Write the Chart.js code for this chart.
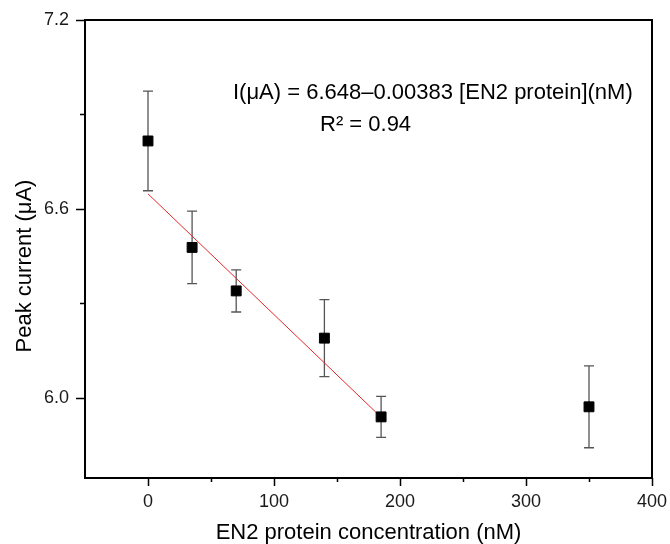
<!DOCTYPE html>
<html>
<head>
<meta charset="utf-8">
<script src="https://cdn.jsdelivr.net/npm/chart.js@4"></script>
<style>
  html, body { margin: 0; padding: 0; background: #ffffff; }
  #wrap { width: 670px; height: 544px; }
</style>
</head>
<body>
<div id="wrap"><canvas id="c" width="670" height="544"></canvas></div>
<script>
// ---- data ----
const concentrations = [0, 35, 70, 140, 185, 350];          // nM
const peakCurrent    = [6.816, 6.478, 6.340, 6.190, 5.940, 5.972]; // µA
const currentError   = [0.158, 0.115, 0.067, 0.122, 0.065, 0.130]; // µA (±)
const fitX = [0, 185];
const fitY = [6.648, 5.939];
const xMajorTicks = [0, 100, 200, 300, 400];
const xMinorTicks = [50, 150, 250, 350];
const yMajorTicks = [6.0, 6.6, 7.2];
const yMinorTicks = [6.3, 6.9];
const equationText = 'I(\u03BCA) = 6.648\u20130.00383 [EN2 protein](nM)';
const r2Text = 'R\u00B2 = 0.94';
const xTitle = 'EN2 protein concentration (nM)';
const yTitle = 'Peak current (\u03BCA)';

const FONT = "'Liberation Sans', Arial, sans-serif";

const frameAndDecor = {
  id: 'frameAndDecor',
  beforeDatasetsDraw(chart) {
    const ctx = chart.ctx;
    const xs = chart.scales.x, ys = chart.scales.y;
    // error bars
    ctx.save();
    ctx.strokeStyle = '#555555';
    ctx.lineWidth = 1.3;
    const cap = 5;
    concentrations.forEach((cx, i) => {
      const px = xs.getPixelForValue(cx);
      const top = ys.getPixelForValue(peakCurrent[i] + currentError[i]);
      const bot = ys.getPixelForValue(peakCurrent[i] - currentError[i]);
      ctx.beginPath();
      ctx.moveTo(px, top); ctx.lineTo(px, bot);
      ctx.moveTo(px - cap, top); ctx.lineTo(px + cap, top);
      ctx.moveTo(px - cap, bot); ctx.lineTo(px + cap, bot);
      ctx.stroke();
    });
    ctx.restore();
  },
  afterDraw(chart) {
    const ctx = chart.ctx;
    const a = chart.chartArea;
    const xs = chart.scales.x, ys = chart.scales.y;
    ctx.save();
    // frame
    ctx.strokeStyle = '#000000';
    ctx.lineWidth = 2;
    ctx.strokeRect(a.left, a.top, a.right - a.left, a.bottom - a.top);
    // ticks
    ctx.lineWidth = 1.5;
    ctx.beginPath();
    xMajorTicks.forEach(v => { const p = Math.round(xs.getPixelForValue(v)) + 0.5; ctx.moveTo(p, a.bottom); ctx.lineTo(p, a.bottom + 8); });
    xMinorTicks.forEach(v => { const p = Math.round(xs.getPixelForValue(v)) + 0.5; ctx.moveTo(p, a.bottom); ctx.lineTo(p, a.bottom + 4); });
    yMajorTicks.forEach(v => { const p = Math.round(ys.getPixelForValue(v)) + 0.5; ctx.moveTo(a.left, p); ctx.lineTo(a.left - 9, p); });
    yMinorTicks.forEach(v => { const p = Math.round(ys.getPixelForValue(v)) + 0.5; ctx.moveTo(a.left, p); ctx.lineTo(a.left - 5, p); });
    ctx.stroke();
    // equation annotation
    ctx.fillStyle = '#000000';
    ctx.font = '22px ' + FONT;
    ctx.textBaseline = 'alphabetic';
    ctx.textAlign = 'left';
    ctx.fillText(equationText, 233, 99);
    ctx.fillText(r2Text, 320, 131);
    // y title
    ctx.translate(25, 266);
    ctx.rotate(-Math.PI / 2);
    ctx.textAlign = 'center';
    ctx.textBaseline = 'middle';
    ctx.fillText(yTitle, 0, 0);
    ctx.restore();
  }
};

new Chart(document.getElementById('c'), {
  type: 'scatter',
  data: {
    datasets: [
      {
        type: 'line',
        label: 'fit',
        data: fitX.map((x, i) => ({ x: x, y: fitY[i] })),
        borderColor: 'rgb(228,40,40)',
        borderWidth: 1,
        pointRadius: 0,
        fill: false,
        order: 2
      },
      {
        label: 'Peak current',
        data: concentrations.map((x, i) => ({ x: x, y: peakCurrent[i] })),
        pointStyle: 'rect',
        pointRadius: 7,
        pointHoverRadius: 7,
        backgroundColor: '#000000',
        borderColor: '#000000',
        borderWidth: 1,
        order: 1
      }
    ]
  },
  options: {
    responsive: false,
    animation: false,
    events: [],
    layout: { padding: { left: 0, top: 20, right: 18, bottom: 0 } },
    plugins: { legend: { display: false }, tooltip: { enabled: false } },
    scales: {
      x: {
        type: 'linear',
        min: -50, max: 400,
        afterBuildTicks: s => { s.ticks = xMajorTicks.map(v => ({ value: v })); },
        afterFit: s => { s.height = 66; s.paddingLeft = 0; s.paddingRight = 0; },
        grid: { display: false, drawTicks: false },
        border: { display: false },
        ticks: {
          padding: 13,
          color: '#1a1a1a',
          font: { family: FONT, size: 18 },
          maxRotation: 0,
          callback: v => String(v)
        },
        title: {
          display: true,
          text: xTitle,
          color: '#000000',
          font: { family: FONT, size: 22, lineHeight: 1 },
          padding: { top: 0, bottom: 0 }
        }
      },
      y: {
        type: 'linear',
        min: 5.746, max: 7.2,
        afterBuildTicks: s => { s.ticks = yMajorTicks.map(v => ({ value: v })); },
        afterFit: s => { s.width = 85; s.paddingTop = 0; s.paddingBottom = 0; },
        grid: { display: false, drawTicks: false },
        border: { display: false },
        ticks: {
          padding: 16,
          color: '#1a1a1a',
          font: { family: FONT, size: 18 },
          callback: v => Number(v).toFixed(1)
        }
      }
    }
  },
  plugins: [frameAndDecor]
});
</script>
</body>
</html>
